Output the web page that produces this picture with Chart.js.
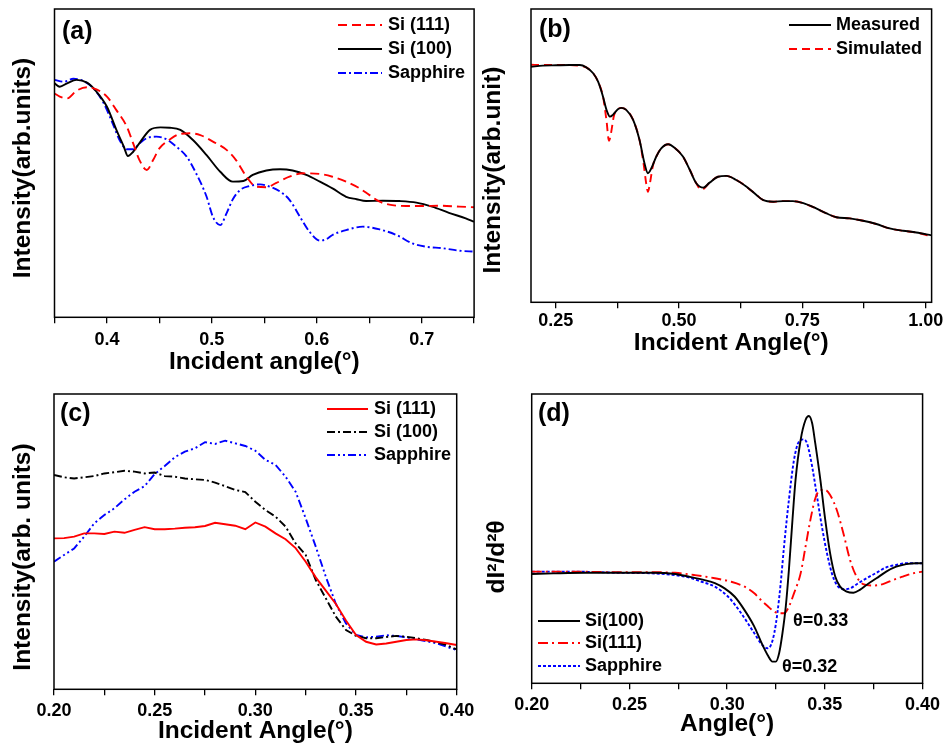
<!DOCTYPE html>
<html>
<head>
<meta charset="utf-8">
<script src="https://cdn.jsdelivr.net/npm/chart.js"></script>
<style>
  body { margin: 0; background: #fff; overflow: hidden; width: 945px; height: 744px; }
  canvas { position: absolute; }
</style>
</head>
<body>
<canvas id="graficoA" width="480" height="378" style="left:0px;top:0px"></canvas>
<canvas id="graficoB" width="475" height="372" style="left:470px;top:0px"></canvas>
<canvas id="graficoC" width="480" height="372" style="left:0px;top:372px"></canvas>
<canvas id="graficoD" width="475" height="372" style="left:470px;top:372px"></canvas>
<script>
// PANEL (a) - reflectivity curves
const anguloA111 = [0.350, 0.355, 0.362, 0.371, 0.381, 0.390, 0.400, 0.409, 0.419, 0.425, 0.431, 0.438, 0.444, 0.450, 0.460, 0.470, 0.479, 0.489, 0.501, 0.514, 0.523, 0.533, 0.542, 0.552, 0.561, 0.574, 0.587, 0.603, 0.615, 0.628, 0.641, 0.650, 0.660, 0.672, 0.685, 0.701, 0.717, 0.736, 0.750]
const si111A = [72.6, 71.6, 71.0, 73.5, 74.6, 73.9, 71.6, 67.2, 61.8, 56.4, 51.0, 47.8, 51.0, 54.8, 57.7, 59.5, 59.7, 59.1, 57.0, 54.3, 51.0, 45.6, 42.4, 42.2, 43.5, 45.6, 46.7, 46.5, 45.6, 44.0, 41.8, 39.7, 37.5, 36.4, 36.1, 36.1, 36.2, 35.9, 35.7]
const anguloA100 = [0.350, 0.355, 0.362, 0.371, 0.381, 0.390, 0.400, 0.409, 0.416, 0.420, 0.425, 0.432, 0.441, 0.451, 0.460, 0.470, 0.482, 0.495, 0.508, 0.520, 0.530, 0.539, 0.552, 0.565, 0.577, 0.590, 0.603, 0.615, 0.628, 0.638, 0.647, 0.663, 0.679, 0.695, 0.710, 0.726, 0.742, 0.750]
const si100A = [75.9, 74.8, 75.9, 77.0, 76.1, 73.2, 68.3, 60.8, 55.4, 52.3, 53.7, 57.0, 60.8, 61.6, 61.5, 60.8, 57.5, 52.6, 47.2, 44.0, 44.2, 46.2, 47.6, 48.0, 47.6, 46.2, 44.0, 41.8, 39.1, 38.3, 37.7, 37.8, 37.7, 37.2, 35.9, 33.9, 32.1, 31.0]
const anguloASaf = [0.350, 0.359, 0.368, 0.378, 0.387, 0.397, 0.406, 0.412, 0.419, 0.425, 0.431, 0.438, 0.447, 0.457, 0.466, 0.476, 0.485, 0.495, 0.501, 0.508, 0.514, 0.520, 0.527, 0.536, 0.546, 0.555, 0.565, 0.574, 0.584, 0.593, 0.603, 0.609, 0.615, 0.628, 0.644, 0.660, 0.676, 0.691, 0.704, 0.720, 0.736, 0.750]
const safiraA = [77.0, 76.4, 77.4, 76.6, 74.3, 69.4, 62.4, 57.5, 54.5, 54.5, 56.4, 58.1, 58.6, 57.7, 55.4, 52.1, 46.7, 39.1, 32.6, 29.9, 33.7, 38.3, 41.3, 42.6, 43.1, 42.4, 40.8, 38.1, 32.6, 27.8, 24.9, 25.3, 26.7, 28.3, 29.4, 28.5, 26.7, 24.0, 22.9, 22.4, 21.6, 21.3]
const ticksA = [0.35, 0.4, 0.45, 0.5, 0.55, 0.6, 0.65, 0.7, 0.75]
const rotulosA = ['', '0.4', '', '0.5', '', '0.6', '', '0.7', '']

// PANEL (b) - measured vs simulated
const anguloBMed = [0.200, 0.224, 0.251, 0.278, 0.299, 0.312, 0.326, 0.336, 0.346, 0.353, 0.360, 0.366, 0.376, 0.383, 0.393, 0.407, 0.420, 0.430, 0.437, 0.444, 0.454, 0.464, 0.478, 0.491, 0.508, 0.522, 0.535, 0.549, 0.562, 0.579, 0.596, 0.616, 0.637, 0.657, 0.670, 0.691, 0.711, 0.731, 0.752, 0.778, 0.799, 0.819, 0.846, 0.873, 0.900, 0.927, 0.954, 0.981, 1.012]
const medidoB = [80.3, 80.7, 80.8, 80.9, 80.9, 80.1, 78.1, 75.2, 70.1, 65.6, 63.3, 63.9, 65.8, 66.3, 65.6, 62.2, 55.3, 47.4, 44.0, 45.7, 49.7, 52.5, 53.9, 52.7, 49.7, 45.1, 40.6, 39.1, 40.8, 42.8, 43.1, 41.7, 39.4, 36.6, 34.9, 34.3, 34.5, 34.5, 33.8, 32.0, 30.3, 29.0, 28.6, 27.8, 26.7, 25.2, 24.4, 23.8, 22.8]
const anguloBSim = [0.200, 0.224, 0.251, 0.278, 0.299, 0.312, 0.326, 0.336, 0.346, 0.353, 0.358, 0.362, 0.368, 0.376, 0.383, 0.393, 0.407, 0.420, 0.428, 0.434, 0.437, 0.441, 0.447, 0.454, 0.464, 0.478, 0.491, 0.508, 0.522, 0.535, 0.544, 0.549, 0.562, 0.579, 0.596, 0.616, 0.637, 0.657, 0.670, 0.691, 0.711, 0.731, 0.752, 0.778, 0.799, 0.819, 0.846, 0.873, 0.900, 0.927, 0.954, 0.981, 1.012]
const simuladoB = [81.0, 80.9, 80.9, 80.9, 80.6, 80.1, 78.1, 75.2, 70.1, 62.0, 55.1, 57.5, 63.5, 65.8, 66.3, 65.6, 62.2, 55.3, 47.5, 40.0, 37.7, 40.5, 46.5, 49.7, 52.5, 53.9, 52.7, 49.7, 45.1, 40.6, 38.5, 38.6, 40.8, 42.8, 43.1, 41.7, 39.4, 36.6, 34.9, 34.3, 34.5, 34.5, 33.8, 32.0, 30.3, 29.0, 28.6, 27.8, 26.7, 25.2, 24.4, 23.8, 22.5]
const ticksB = [0.25, 0.375, 0.5, 0.625, 0.75, 0.875, 1.0]
const rotulosB = ['0.25', '', '0.50', '', '0.75', '', '1.00']

// PANEL (c) - low angle region
const anguloC = [0.200, 0.205, 0.210, 0.215, 0.220, 0.225, 0.230, 0.235, 0.240, 0.245, 0.250, 0.255, 0.260, 0.265, 0.270, 0.275, 0.280, 0.285, 0.290, 0.295, 0.300, 0.305, 0.310, 0.315, 0.320, 0.325, 0.330, 0.335, 0.340, 0.345, 0.350, 0.355, 0.360, 0.365, 0.370, 0.375, 0.380, 0.385, 0.390, 0.395, 0.400]
const si111C = [51.1, 51.2, 51.7, 52.8, 52.8, 52.6, 53.4, 53.0, 54.0, 54.9, 54.2, 54.2, 54.4, 54.7, 54.9, 55.3, 56.4, 55.9, 55.4, 54.2, 56.5, 55.1, 52.8, 50.8, 47.8, 43.2, 37.9, 33.4, 28.9, 23.3, 18.4, 16.1, 15.2, 15.5, 16.1, 16.7, 16.9, 16.6, 16.1, 15.6, 15.0]
const si100C = [72.6, 71.8, 71.4, 71.8, 72.2, 73.1, 73.5, 74.0, 73.7, 73.1, 73.4, 72.2, 72.0, 71.4, 71.1, 70.9, 70.0, 68.8, 67.5, 66.8, 63.5, 60.7, 58.5, 55.1, 49.4, 45.5, 37.0, 30.8, 24.6, 20.1, 18.1, 17.3, 17.3, 17.7, 18.1, 17.8, 17.3, 16.7, 15.9, 15.0, 13.5]
const safiraC = [43.2, 45.5, 47.7, 51.7, 56.2, 59.0, 61.3, 64.3, 66.9, 68.8, 72.9, 75.6, 78.6, 80.5, 81.6, 83.7, 83.1, 84.2, 83.3, 82.4, 80.8, 77.7, 76.0, 72.0, 66.9, 57.9, 48.3, 38.1, 28.9, 22.3, 18.4, 17.6, 17.8, 18.3, 18.1, 17.6, 16.9, 16.3, 15.6, 14.4, 13.3]
const ticksC = [0.2, 0.225, 0.25, 0.275, 0.3, 0.325, 0.35, 0.375, 0.4]
const rotulosC = ['0.20', '', '0.25', '', '0.30', '', '0.35', '', '0.40']

// PANEL (d) - second derivative
const anguloD100 = [0.2000, 0.2110, 0.2278, 0.2447, 0.2616, 0.2734, 0.2802, 0.2869, 0.2937, 0.2987, 0.3038, 0.3089, 0.3139, 0.3173, 0.3207, 0.3232, 0.3249, 0.3266, 0.3283, 0.3300, 0.3316, 0.3333, 0.3350, 0.3376, 0.3401, 0.3418, 0.3435, 0.3451, 0.3477, 0.3502, 0.3527, 0.3553, 0.3578, 0.3612, 0.3646, 0.3679, 0.3713, 0.3764, 0.3814, 0.3865, 0.3916, 0.3966, 0.4000]
const si100D = [37.8, 38.0, 38.2, 38.2, 38.2, 37.8, 36.9, 35.9, 34.6, 32.8, 30.0, 25.3, 19.6, 14.4, 9.8, 7.5, 7.5, 10.4, 17.3, 26.5, 39.2, 55.3, 70.3, 84.1, 91.0, 92.4, 89.9, 82.9, 70.3, 56.5, 44.9, 36.9, 33.4, 31.7, 31.3, 32.3, 34.0, 36.3, 38.6, 40.3, 41.2, 41.5, 41.5]
const anguloD111 = [0.2000, 0.2194, 0.2447, 0.2616, 0.2734, 0.2835, 0.2937, 0.3021, 0.3089, 0.3139, 0.3173, 0.3207, 0.3241, 0.3266, 0.3291, 0.3316, 0.3342, 0.3376, 0.3401, 0.3426, 0.3451, 0.3477, 0.3502, 0.3527, 0.3561, 0.3595, 0.3629, 0.3662, 0.3696, 0.3747, 0.3797, 0.3848, 0.3899, 0.3949, 0.4000]
const si111D = [38.6, 38.6, 38.4, 38.4, 38.2, 37.4, 36.3, 35.1, 33.4, 31.1, 28.8, 26.7, 24.8, 24.2, 24.2, 26.5, 31.1, 38.0, 47.2, 56.5, 63.9, 66.8, 66.8, 65.1, 59.9, 51.8, 42.6, 36.9, 34.3, 33.8, 34.3, 35.7, 36.9, 38.0, 38.6]
const anguloDSaf = [0.2000, 0.2194, 0.2447, 0.2616, 0.2734, 0.2802, 0.2869, 0.2937, 0.3004, 0.3072, 0.3139, 0.3173, 0.3207, 0.3224, 0.3241, 0.3257, 0.3274, 0.3291, 0.3316, 0.3342, 0.3367, 0.3392, 0.3409, 0.3435, 0.3460, 0.3485, 0.3511, 0.3536, 0.3561, 0.3595, 0.3629, 0.3671, 0.3713, 0.3764, 0.3814, 0.3865, 0.3916, 0.3966, 0.4000]
const safiraD = [38.6, 38.6, 38.2, 38.0, 37.4, 36.6, 35.1, 33.4, 30.0, 24.2, 17.3, 13.8, 12.1, 13.2, 17.3, 24.2, 34.6, 47.2, 63.4, 77.2, 83.5, 84.3, 82.9, 74.9, 64.5, 54.1, 44.9, 38.0, 34.0, 32.5, 32.8, 34.6, 36.3, 38.2, 40.1, 40.9, 41.5, 41.5, 41.5]

const fonte = "'Liberation Sans', Arial, sans-serif"

function pontos(xs, ys) {
  return xs.map((x, i) => ({ x: x, y: ys[i] }))
}

// frame, panel letter, y title, legend and notes
const textos = {
  id: 'textos',
  afterDatasetsDraw(chart, args, opts) {
    const ctx = chart.ctx
    const a = chart.chartArea
    ctx.save()
    ctx.strokeStyle = '#000'
    ctx.lineWidth = 1.5
    ctx.setLineDash([])
    ctx.strokeRect(a.left, a.top, a.right - a.left, a.bottom - a.top)

    ctx.fillStyle = '#000'
    ctx.font = 'bold 25px ' + fonte
    ctx.textBaseline = 'alphabetic'
    ctx.fillText(opts.painel.texto, opts.painel.x, opts.painel.y)

    ctx.save()
    ctx.translate(opts.tituloY.x, opts.tituloY.y)
    ctx.rotate(-Math.PI / 2)
    ctx.font = 'bold 24.5px ' + fonte
    ctx.textAlign = 'center'
    ctx.textBaseline = 'middle'
    ctx.fillText(opts.tituloY.texto, 0, 0)
    ctx.restore()

    const leg = opts.legenda
    ctx.font = 'bold 18px ' + fonte
    ctx.textBaseline = 'middle'
    chart.data.datasets.forEach((ds, i) => {
      const y = leg.y[i]
      ctx.strokeStyle = ds.borderColor
      ctx.lineWidth = 1.8
      ctx.setLineDash(ds.borderDash || [])
      ctx.beginPath()
      ctx.moveTo(leg.x1, y)
      ctx.lineTo(leg.x2, y)
      ctx.stroke()
      ctx.fillText(ds.label, leg.tx, y)
    })
    ctx.setLineDash([])

    const notas = opts.notas || []
    notas.forEach(n => ctx.fillText(n.texto, n.x, n.y))
    ctx.restore()
  }
}

function criaGrafico(id, cfg) {
  return new Chart(document.getElementById(id), {
    type: 'line',
    data: { datasets: cfg.datasets },
    options: {
      responsive: false,
      animation: false,
      events: [],
      layout: { padding: cfg.padding },
      elements: {
        point: { radius: 0 },
        line: { borderWidth: 1.9, fill: false, cubicInterpolationMode: cfg.suave ? 'monotone' : 'default', tension: 0 }
      },
      plugins: { legend: { display: false }, tooltip: { enabled: false }, textos: cfg.textos },
      scales: {
        x: {
          type: 'linear',
          min: cfg.xMin,
          max: cfg.xMax,
          afterBuildTicks: s => { s.ticks = cfg.ticks.map(v => ({ value: v })) },
          afterFit: s => { s.height = cfg.alturaX },
          ticks: {
            autoSkip: false,
            maxRotation: 0,
            padding: cfg.padTick,
            color: '#000',
            font: { family: fonte, size: 18, weight: 'bold' },
            callback: (v, i) => cfg.rotulos[i]
          },
          grid: { drawOnChartArea: false, tickLength: 6, color: '#000', lineWidth: 1.3 },
          border: { display: false },
          title: {
            display: true,
            text: cfg.tituloX,
            color: '#000',
            font: { family: fonte, size: 24.5, weight: 'bold', lineHeight: 1 },
            padding: { top: 0, bottom: cfg.padTitulo }
          }
        },
        y: {
          min: 0,
          max: 100,
          afterFit: s => { s.width = cfg.larguraY },
          ticks: { display: false },
          grid: { display: false },
          border: { display: false }
        }
      }
    },
    plugins: [textos]
  })
}


// GRAFICO A
criaGrafico('graficoA', {
  datasets: [
    { label: 'Si (111)', data: pontos(anguloA111, si111A), borderColor: '#ff0000', borderDash: [9, 5] },
    { label: 'Si (100)', data: pontos(anguloA100, si100A), borderColor: '#000000' },
    { label: 'Sapphire', data: pontos(anguloASaf, safiraA), borderColor: '#0000ff', borderDash: [8, 3, 2, 3] }
  ],
  suave: true,
  padding: { top: 9, right: 5, left: 0, bottom: 0 },
  xMin: 0.35, xMax: 0.75,
  ticks: ticksA, rotulos: rotulosA,
  alturaX: 60.7, larguraY: 54.5, padTick: 5.9, padTitulo: 3.75,
  tituloX: 'Incident angle(°)',
  textos: {
    painel: { texto: '(a)', x: 62, y: 39 },
    tituloY: { texto: 'Intensity(arb.units)', x: 23, y: 168 },
    legenda: { x1: 338, x2: 382, tx: 388, y: [25, 49, 73] }
  }
})

// GRAFICO B
criaGrafico('graficoB', {
  datasets: [
    { label: 'Measured', data: pontos(anguloBMed, medidoB), borderColor: '#000000' },
    { label: 'Simulated', data: pontos(anguloBSim, simuladoB), borderColor: '#ff0000', borderDash: [8, 5] }
  ],
  suave: true,
  padding: { top: 9, right: 13.3, left: 0, bottom: 0 },
  xMin: 0.2, xMax: 1.012,
  ticks: ticksB, rotulos: rotulosB,
  alturaX: 69.7, larguraY: 61, padTick: 1.6, padTitulo: 16.75,
  tituloX: 'Incident Angle(°)',
  textos: {
    painel: { texto: '(b)', x: 69, y: 37 },
    tituloY: { texto: 'Intensity(arb.unit)', x: 23, y: 170 },
    legenda: { x1: 319, x2: 361, tx: 366, y: [25, 49] }
  }
})

// GRAFICO C
criaGrafico('graficoC', {
  datasets: [
    { label: 'Si (111)', data: pontos(anguloC, si111C), borderColor: '#ff0000' },
    { label: 'Si (100)', data: pontos(anguloC, si100C), borderColor: '#000000', borderDash: [8, 3, 2, 3] },
    { label: 'Sapphire', data: pontos(anguloC, safiraC), borderColor: '#0000ff', borderDash: [8, 3, 2, 3, 2, 3] }
  ],
  suave: false,
  padding: { top: 22, right: 23.3, left: 0, bottom: 0 },
  xMin: 0.2, xMax: 0.4,
  ticks: ticksC, rotulos: rotulosC,
  alturaX: 54.7, larguraY: 54, padTick: 4.6, padTitulo: 0.75,
  tituloX: 'Incident Angle(°)',
  textos: {
    painel: { texto: '(c)', x: 60, y: 49 },
    tituloY: { texto: 'Intensity(arb. units)', x: 23, y: 185 },
    legenda: { x1: 327, x2: 368, tx: 374, y: [37, 60, 83] }
  }
})

// GRAFICO D
criaGrafico('graficoD', {
  datasets: [
    { label: 'Si(100)', data: pontos(anguloD100, si100D), borderColor: '#000000' },
    { label: 'Si(111)', data: pontos(anguloD111, si111D), borderColor: '#ff0000', borderDash: [10, 4, 2, 4] },
    { label: 'Sapphire', data: pontos(anguloDSaf, safiraD), borderColor: '#0000ff', borderDash: [3, 2] }
  ],
  suave: true,
  padding: { top: 22, right: 18.3, left: 0, bottom: 0 },
  xMin: 0.2, xMax: 0.4,
  ticks: ticksC, rotulos: rotulosC,
  alturaX: 60.7, larguraY: 61.7, padTick: 4.9, padTitulo: 7.75,
  tituloX: 'Angle(°)',
  textos: {
    painel: { texto: '(d)', x: 68, y: 49 },
    tituloY: { texto: 'dI²/d²θ', x: 27, y: 185 },
    legenda: { x1: 68, x2: 110, tx: 115, y: [249, 271, 294] },
    notas: [
      { texto: 'θ=0.33', x: 323, y: 249 },
      { texto: 'θ=0.32', x: 312, y: 295 }
    ]
  }
})
</script>
</body>
</html>
